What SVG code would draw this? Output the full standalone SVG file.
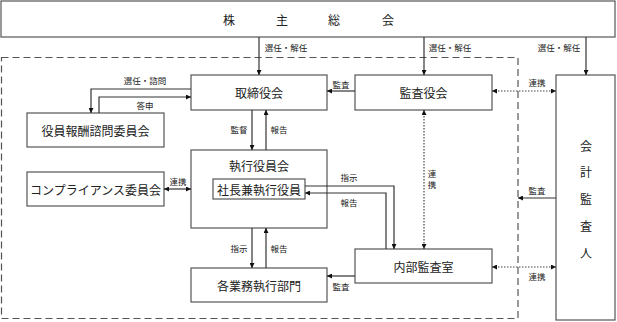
<svg xmlns="http://www.w3.org/2000/svg" width="617" height="322" viewBox="0 0 617 322">
<style>
.box{fill:#fff;stroke:#555;stroke-width:1.2}
.ln{fill:none;stroke:#333;stroke-width:1.2}
.dot{fill:none;stroke:#444;stroke-width:1.2;stroke-dasharray:1.5 1.5}
.dash{fill:none;stroke:#555;stroke-width:1.2;stroke-dasharray:7 4}
.t{font-family:"Noto Sans CJK JP",sans-serif;font-size:12px;fill:#222;text-anchor:middle;dominant-baseline:central}
.s{font-family:"Noto Sans CJK JP",sans-serif;font-size:8.5px;fill:#222;text-anchor:middle;dominant-baseline:central}
</style>
<defs>
<marker id="ah" viewBox="0 0 10 10" refX="10" refY="5" markerWidth="5" markerHeight="5" orient="auto-start-reverse" markerUnits="userSpaceOnUse"><path d="M0,0L10,5L0,10z" fill="#111"/></marker>
</defs>
<rect width="617" height="322" fill="#fff"/>
<rect class="dash" x="1.5" y="57.5" width="516.5" height="261"/>

<g id="shareholders"><rect class="box" x="1" y="1" width="614" height="36"/>
<text class="t" x="229" y="19">株</text><text class="t" x="282" y="19">主</text><text class="t" x="334" y="19">総</text><text class="t" x="388" y="19">会</text></g>

<g id="board"><rect class="box" x="191" y="75" width="136" height="35"/><text class="t" x="259" y="92.5">取締役会</text></g>
<g id="auditboard"><rect class="box" x="355" y="75" width="137" height="35"/><text class="t" x="423.5" y="92.5">監査役会</text></g>
<g id="accountant"><rect class="box" x="556" y="75" width="59" height="245"/>
<text class="t" x="586" y="145">会</text><text class="t" x="586" y="171">計</text><text class="t" x="586" y="198">監</text><text class="t" x="586" y="225">査</text><text class="t" x="586" y="252">人</text></g>
<g id="remuneration"><rect class="box" x="27" y="113" width="137" height="34"/><text class="t" x="95.5" y="130">役員報酬諮問委員会</text></g>
<g id="compliance"><rect class="box" x="27" y="172" width="137" height="34"/><text class="t" x="95.5" y="189">コンプライアンス委員会</text></g>
<g id="executive"><rect class="box" x="191" y="150" width="136" height="78"/><text class="t" x="259" y="165">執行役員会</text>
<g id="president"><rect class="box" x="213" y="179" width="92" height="20"/><text class="t" x="259" y="189">社長兼執行役員</text></g></g>
<g id="internalaudit"><rect class="box" x="355" y="249" width="137" height="34"/><text class="t" x="423.5" y="266">内部監査室</text></g>
<g id="divisions"><rect class="box" x="191" y="268" width="136" height="34"/><text class="t" x="259" y="285">各業務執行部門</text></g>

<g id="connectors">
<line class="ln" x1="259" y1="37" x2="259" y2="75" marker-end="url(#ah)"/>
<line class="ln" x1="424" y1="37" x2="424" y2="75" marker-end="url(#ah)"/>
<line class="ln" x1="586" y1="37" x2="586" y2="75" marker-end="url(#ah)"/>
<line class="ln" x1="355" y1="91" x2="327" y2="91" marker-end="url(#ah)"/>
<line class="dot" x1="492" y1="91" x2="556" y2="91" marker-start="url(#ah)" marker-end="url(#ah)"/>
<polyline class="ln" points="191,89 91,89 91,113" marker-end="url(#ah)"/>
<polyline class="ln" points="99,113 99,97 191,97" marker-end="url(#ah)"/>
<line class="ln" x1="252" y1="110" x2="252" y2="150" marker-end="url(#ah)"/>
<line class="ln" x1="266" y1="150" x2="266" y2="110" marker-end="url(#ah)"/>
<line class="ln" x1="164" y1="189" x2="191" y2="189" marker-start="url(#ah)" marker-end="url(#ah)"/>
<polyline class="ln" points="305,186 394,186 394,249" marker-end="url(#ah)"/>
<polyline class="ln" points="386,249 386,193 305,193" marker-end="url(#ah)"/>
<line class="dot" x1="424" y1="110" x2="424" y2="249" marker-start="url(#ah)" marker-end="url(#ah)"/>
<line class="ln" x1="252" y1="228" x2="252" y2="268" marker-end="url(#ah)"/>
<line class="ln" x1="266" y1="268" x2="266" y2="228" marker-end="url(#ah)"/>
<line class="ln" x1="355" y1="276" x2="327" y2="276" marker-end="url(#ah)"/>
<line class="dot" x1="492" y1="267" x2="556" y2="267" marker-start="url(#ah)" marker-end="url(#ah)"/>
<line class="ln" x1="556" y1="198" x2="518" y2="198" marker-end="url(#ah)"/>
</g>

<g id="labels">
<text class="s" x="286" y="47">選任・解任</text>
<text class="s" x="450" y="47">選任・解任</text>
<text class="s" x="559" y="47">選任・解任</text>
<text class="s" x="341" y="84">監査</text>
<text class="s" x="537" y="82">連携</text>
<text class="s" x="145" y="80">選任・諮問</text>
<text class="s" x="145" y="105">答申</text>
<text class="s" x="239" y="129">監督</text>
<text class="s" x="279" y="129">報告</text>
<text class="s" x="178" y="181">連携</text>
<text class="s" x="349" y="177">指示</text>
<text class="s" x="349" y="202">報告</text>
<text class="s" x="432" y="173">連</text>
<text class="s" x="432" y="184">携</text>
<text class="s" x="537" y="190">監査</text>
<text class="s" x="239" y="248">指示</text>
<text class="s" x="279" y="248">報告</text>
<text class="s" x="341" y="286">監査</text>
<text class="s" x="537" y="276">連携</text>
</g>
</svg>
